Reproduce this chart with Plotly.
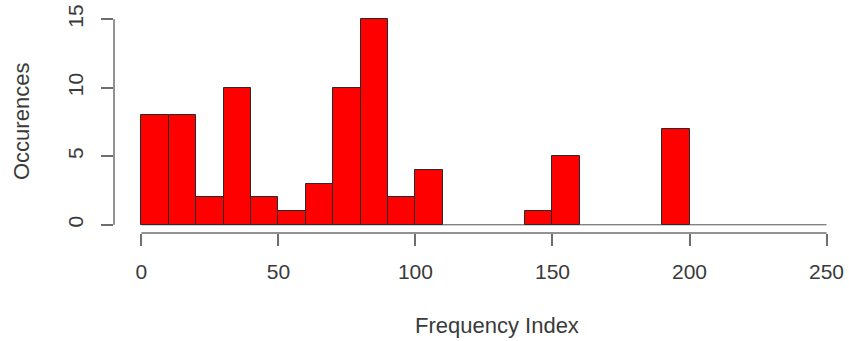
import plotly.graph_objects as go

# Histogram data (bin width 10, bins from 0 to 250)
bin_starts = list(range(0, 250, 10))
counts = [8, 8, 2, 10, 2, 1, 3, 10, 15, 2, 4, 0, 0, 0, 1, 5, 0, 0, 0, 7, 0, 0, 0, 0, 0]
x_ticks = [0, 50, 100, 150, 200, 250]
y_ticks = [0, 5, 10, 15]
x_label = "Frequency Index"
y_label = "Occurences"

bin_width = 10
centers = [s + bin_width / 2 for s in bin_starts]

FONT = "Liberation Sans, Arial, Helvetica, sans-serif"
TXT = "#3a3a3a"
AX = "#6e6e6e"

W, H = 849, 341
ML, MT, MB = 114, 11, 108
PW = W - ML
PH = H - MT - MB

fig = go.Figure()
fig.add_trace(go.Bar(
    x=[c for c, v in zip(centers, counts) if v > 0],
    y=[v for v in counts if v > 0],
    width=bin_width,
    marker=dict(color="#ff0000", line=dict(color="#2a2a2a", width=1)),
    showlegend=False,
))

shapes = [
    dict(type="line", xref="x", yref="y", x0=bin_starts[0], x1=bin_starts[-1] + bin_width,
         y0=0, y1=0, line=dict(color="#555555", width=1), layer="below"),
    dict(type="line", xref="x", yref="paper", x0=x_ticks[0], x1=x_ticks[-1], y0=0, y1=0,
         line=dict(color=AX, width=1.5)),
    dict(type="line", xref="paper", yref="y", x0=0, x1=0, y0=y_ticks[0], y1=y_ticks[-1],
         line=dict(color=AX, width=1.5)),
]

fig.update_layout(
    width=W, height=H,
    margin=dict(l=ML, r=0, t=MT, b=MB, autoexpand=False),
    paper_bgcolor="white", plot_bgcolor="white",
    bargap=0,
    shapes=shapes,
    font=dict(family=FONT, size=21, color=TXT),
    xaxis=dict(
        range=[-10, 258.2], tickvals=x_ticks, ticktext=[str(t) for t in x_ticks],
        showgrid=False, zeroline=False, showline=False,
        ticks="outside", ticklen=12, tickwidth=1.5, tickcolor=AX,
        ticklabelstandoff=8, automargin=False, ticklabeloverflow="allow",
        tickfont=dict(family=FONT, size=21, color=TXT),
    ),
    yaxis=dict(
        range=[-0.6, 15.6], tickvals=y_ticks, ticktext=[str(t) for t in y_ticks],
        showgrid=False, zeroline=False, showline=False,
        ticks="outside", ticklen=12, tickwidth=1.5, tickcolor=AX,
        tickangle=-90, ticklabelstandoff=10, automargin=False, ticklabeloverflow="allow",
        tickfont=dict(family=FONT, size=21, color=TXT),
    ),
    annotations=[
        dict(text=x_label, xref="paper", yref="paper",
             x=(497 - ML) / PW, y=(MT + PH - 325) / PH,
             xanchor="center", yanchor="middle", showarrow=False,
             font=dict(family=FONT, size=22, color=TXT)),
        dict(text=y_label, xref="paper", yref="paper",
             x=(21 - ML) / PW, y=0.5,
             xanchor="center", yanchor="middle", textangle=-90, showarrow=False,
             font=dict(family=FONT, size=22, color=TXT)),
    ],
)

# remove the default page margin so the figure fills the window from its top-left corner
fig.write_html("out.html", config={"displayModeBar": False},
               post_script="document.body.style.margin='0';")
